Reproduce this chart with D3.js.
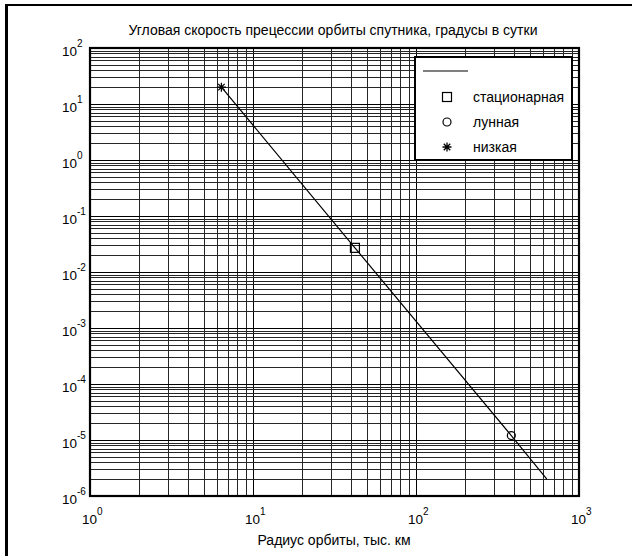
<!DOCTYPE html>
<html>
<head>
<meta charset="utf-8">
<script src="https://cdn.jsdelivr.net/npm/d3@7"></script>
<style>
    body { margin: 0; background: #fff; }
    svg { display: block; font-family: "Liberation Sans", Arial, sans-serif; }
</style>
</head>
<body>
<div id="chart"></div>
<script>
// orbit radius, thousand km / precession rate, degrees per day
const lineRadius = [6.4, 42.2, 384.4, 635];
const lineRate = [20, 0.027, 1.2e-5, 2.0e-6];

const markerNames = ["стационарная", "лунная", "низкая"];
const markerRadius = [42.2, 384.4, 6.4];
const markerRate = [0.027, 1.2e-5, 20];
const markerShapes = ["square", "circle", "star"];

const xDecades = [0, 1, 2, 3];
const yDecades = [-6, -5, -4, -3, -2, -1, 0, 1, 2];

const titleText = "Угловая скорость прецессии орбиты спутника, градусы в сутки";
const xLabelText = "Радиус орбиты, тыс. км";

class PrecessionChart {
    constructor(parentElement) {
        this.parentElement = parentElement;
        this.initVis();
    }

    initVis() {
        let vis = this;
        vis.width = 632;
        vis.height = 556;
        vis.left = 90;
        vis.right = 579;
        vis.top = 48;
        vis.bottom = 496;

        vis.svg = d3.select("#" + vis.parentElement)
            .append("svg")
            .attr("width", vis.width)
            .attr("height", vis.height);

        vis.x = d3.scaleLog().domain([1, 1000]).range([vis.left, vis.right]);
        vis.y = d3.scaleLog().domain([1e-6, 100]).range([vis.bottom, vis.top]);

        // figure frame
        const frame = vis.svg.append("g").attr("class", "frame")
            .attr("stroke", "#000").attr("fill", "none");
        frame.append("line").attr("x1", 6.5).attr("x2", 6.5).attr("y1", 4).attr("y2", vis.height)
            .attr("stroke-width", 3);
        frame.append("line").attr("x1", 5).attr("x2", vis.width).attr("y1", 5).attr("y2", 5)
            .attr("stroke-width", 2);

        vis.drawGrid();
        vis.drawLine();
        vis.drawLabels();
        vis.drawLegend();
    }

    drawGrid() {
        let vis = this;
        const h = vis.bottom - vis.top;
        const w = vis.right - vis.left;
        const isDecade = v => Math.abs(Math.log10(v) - Math.round(Math.log10(v))) < 1e-9;

        const xGrid = vis.svg.append("g")
            .attr("transform", `translate(0,${vis.bottom})`)
            .call(d3.axisBottom(vis.x).tickSize(-h).tickFormat(""));
        const yGrid = vis.svg.append("g")
            .attr("transform", `translate(${vis.left},0)`)
            .call(d3.axisLeft(vis.y).tickSize(-w).tickFormat(""));

        [xGrid, yGrid].forEach(g => {
            g.select(".domain").remove();
            g.selectAll(".tick line")
                .attr("stroke", d => isDecade(d) ? "#000" : "#262626")
                .attr("stroke-width", d => isDecade(d) ? 1.8 : 1)
                .attr("shape-rendering", "crispEdges");
            g.selectAll(".tick text").remove();
        });

        // axes box
        vis.svg.append("rect")
            .attr("x", vis.left).attr("y", vis.top)
            .attr("width", w).attr("height", h)
            .attr("fill", "none")
            .attr("stroke", "#000")
            .attr("stroke-width", 2.2);
    }

    drawLine() {
        let vis = this;
        const points = lineRadius.map((r, i) => ({ r: r, v: lineRate[i] }));
        const lineGenerator = d3.line()
            .x(d => vis.x(d.r))
            .y(d => vis.y(d.v));

        vis.svg.append("path")
            .attr("d", lineGenerator(points))
            .attr("fill", "none")
            .attr("stroke", "#000")
            .attr("stroke-width", 1.2);

        const markers = vis.svg.append("g").attr("class", "markers");
        markerRadius.forEach((r, i) => {
            vis.drawMarker(markers, markerShapes[i], vis.x(r), vis.y(markerRate[i]));
        });
    }

    drawMarker(group, shape, cx, cy) {
        if (shape === "square") {
            group.append("rect")
                .attr("x", cx - 4.5).attr("y", cy - 4.5)
                .attr("width", 9).attr("height", 9)
                .attr("fill", "none").attr("stroke", "#000").attr("stroke-width", 1.2);
        } else if (shape === "circle") {
            group.append("circle")
                .attr("cx", cx).attr("cy", cy).attr("r", 4)
                .attr("fill", "none").attr("stroke", "#000").attr("stroke-width", 1.2);
        } else {
            const s = 4.5;
            const d = s * 0.72;
            group.append("path")
                .attr("d", `M${cx - s},${cy}L${cx + s},${cy}M${cx},${cy - s}L${cx},${cy + s}` +
                    `M${cx - d},${cy - d}L${cx + d},${cy + d}M${cx - d},${cy + d}L${cx + d},${cy - d}`)
                .attr("fill", "none").attr("stroke", "#000").attr("stroke-width", 1.3);
        }
    }

    drawLabels() {
        let vis = this;

        vis.svg.append("text")
            .attr("x", 333).attr("y", 35)
            .attr("text-anchor", "middle")
            .style("font-size", "14px")
            .text(titleText);

        vis.svg.append("text")
            .attr("x", 334).attr("y", 545)
            .attr("text-anchor", "middle")
            .style("font-size", "14px")
            .text(xLabelText);

        // x tick labels
        const xl = vis.svg.append("g").attr("class", "x-labels");
        xDecades.forEach(p => {
            const t = xl.append("text")
                .attr("x", vis.x(Math.pow(10, p)) - 8)
                .attr("y", vis.bottom + 27.5)
                .style("font-size", "13.5px");
            t.append("tspan").text("10");
            t.append("tspan")
                .attr("dy", -9)
                .style("font-size", "10px")
                .text(p);
        });

        // y tick labels
        const yl = vis.svg.append("g").attr("class", "y-labels");
        yDecades.forEach(p => {
            const t = yl.append("text")
                .attr("x", 62)
                .attr("y", vis.y(Math.pow(10, p)) + 7.5)
                .style("font-size", "13.5px");
            t.append("tspan").text("10");
            t.append("tspan")
                .attr("dy", -8.5)
                .style("font-size", "10px")
                .text(p);
        });
    }

    drawLegend() {
        let vis = this;
        const lg = vis.svg.append("g").attr("class", "legend");
        lg.append("rect")
            .attr("x", 415).attr("y", 57)
            .attr("width", 157).attr("height", 103)
            .attr("fill", "#fff")
            .attr("stroke", "#000")
            .attr("stroke-width", 2);

        lg.append("line")
            .attr("x1", 423).attr("x2", 468)
            .attr("y1", 71).attr("y2", 71)
            .attr("stroke", "#000").attr("stroke-width", 1.2);

        markerNames.forEach((name, i) => {
            const cy = 97 + i * 25;
            vis.drawMarker(lg, markerShapes[i], 447, cy);
            lg.append("text")
                .attr("x", 473).attr("y", cy + 5)
                .style("font-size", "14px")
                .text(name);
        });
    }
}

new PrecessionChart("chart");
</script>
</body>
</html>
